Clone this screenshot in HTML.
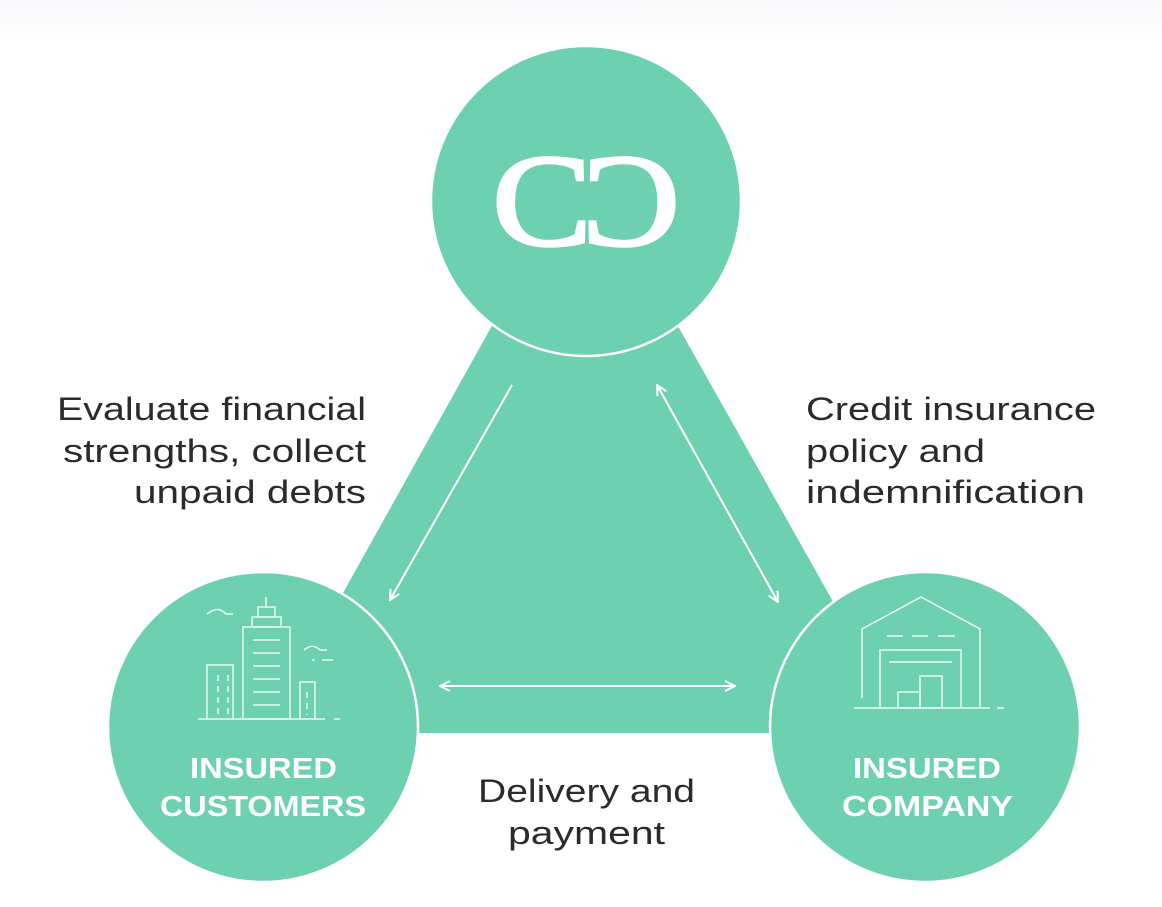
<!DOCTYPE html>
<html><head><meta charset="utf-8"><style>
html,body{margin:0;padding:0;background:#fff;}
body{width:1162px;height:902px;overflow:hidden;background:linear-gradient(#f6f7f9 0,#fff 40px);}
</style></head><body>
<svg width="1162" height="902" viewBox="0 0 1162 902" xmlns="http://www.w3.org/2000/svg">
<defs>
<marker id="ah" viewBox="0 0 12 12" refX="11" refY="6" markerWidth="12" markerHeight="12" markerUnits="userSpaceOnUse" orient="auto-start-reverse">
<path d="M1,1 L11,6 L1,11" fill="none" stroke="#fff" stroke-width="2"/>
</marker>
</defs>
<polygon points="562,200 607,200 907,733 265,733" fill="#6dd0b0"/>
<circle cx="586" cy="201" r="155" fill="#6dd0b0" stroke="#fff" stroke-width="2.5"/>
<circle cx="263" cy="727" r="155" fill="#6dd0b0" stroke="#fff" stroke-width="2.5"/>
<circle cx="925" cy="727" r="155" fill="#6dd0b0" stroke="#fff" stroke-width="2.5"/>
<g font-family="Liberation Serif, serif" font-size="132" fill="#fff" stroke="#fff" stroke-width="3">
<text x="492" y="245" textLength="100" lengthAdjust="spacingAndGlyphs">C</text>
<text x="-680" y="245" textLength="98" lengthAdjust="spacingAndGlyphs" transform="scale(-1,1)">C</text>
</g>
<g stroke="#fff" stroke-width="2" fill="none">
<line x1="512" y1="385" x2="390" y2="600" marker-end="url(#ah)"/>
<line x1="657" y1="385" x2="778" y2="602" marker-start="url(#ah)" marker-end="url(#ah)"/>
<line x1="440" y1="686" x2="735" y2="686" marker-start="url(#ah)" marker-end="url(#ah)"/>
</g>
<g stroke="#e8f8f2" stroke-width="1.5" fill="none">
<line x1="198" y1="719" x2="325" y2="719"/><line x1="334" y1="719" x2="340" y2="719"/>
<rect x="243" y="627" width="47" height="92"/>
<rect x="252" y="617" width="29" height="10"/>
<rect x="258" y="607" width="17" height="10"/>
<line x1="266" y1="597" x2="266" y2="607"/>
<path d="M207,719 V665 H233 V719"/>
<path d="M218,675 V715 M228,675 V715" stroke-dasharray="6,5"/>
<path d="M300,719 V682 H315 V719"/><path d="M307,692 V715" stroke-dasharray="6,5"/>
<path d="M253,640 H280 M253,653 H280 M253,666 H280 M253,679 H280 M253,692 H280 M253,705 H280"/>
<path d="M207,614 C215,608 220,608 226,614 H233"/>
<path d="M304,650 C310,645 315,645 320,650 H327 M312,660 H315 M322,660 H333"/>
</g>
<g stroke="#e8f8f2" stroke-width="1.5" fill="none">
<line x1="854" y1="708" x2="990" y2="708"/><line x1="997" y1="708" x2="1004" y2="708"/>
<path d="M862,698 V629 L921,597 L980,629 V708"/>
<path d="M887,636 H903 M912,636 H928 M938,636 H955"/>
<path d="M880,708 V650 H961 V708"/>
<line x1="889" y1="662" x2="952" y2="662"/>
<rect x="898" y="692" width="22" height="16"/>
<rect x="920" y="676" width="22" height="32"/>
</g>
<g font-family="Liberation Sans, sans-serif" font-weight="bold" font-size="29" fill="#fff">
<text x="190" y="778" textLength="147" lengthAdjust="spacingAndGlyphs">INSURED</text>
<text x="160" y="816" textLength="206" lengthAdjust="spacingAndGlyphs">CUSTOMERS</text>
<text x="853" y="778" textLength="148" lengthAdjust="spacingAndGlyphs">INSURED</text>
<text x="842" y="816" textLength="171" lengthAdjust="spacingAndGlyphs">COMPANY</text>
</g>
<g font-family="Liberation Sans, sans-serif" font-size="32" fill="#2b2b2b">
<text x="57" y="420" textLength="309" lengthAdjust="spacingAndGlyphs">Evaluate financial</text>
<text x="63" y="462" textLength="303" lengthAdjust="spacingAndGlyphs">strengths, collect</text>
<text x="134" y="503" textLength="232" lengthAdjust="spacingAndGlyphs">unpaid debts</text>
<text x="806" y="420" textLength="290" lengthAdjust="spacingAndGlyphs">Credit insurance</text>
<text x="806" y="462" textLength="179" lengthAdjust="spacingAndGlyphs">policy and</text>
<text x="806" y="503" textLength="279" lengthAdjust="spacingAndGlyphs">indemnification</text>
<text x="478" y="802" textLength="217" lengthAdjust="spacingAndGlyphs">Delivery and</text>
<text x="508" y="844" textLength="157" lengthAdjust="spacingAndGlyphs">payment</text>
</g>
</svg>
</body></html>
